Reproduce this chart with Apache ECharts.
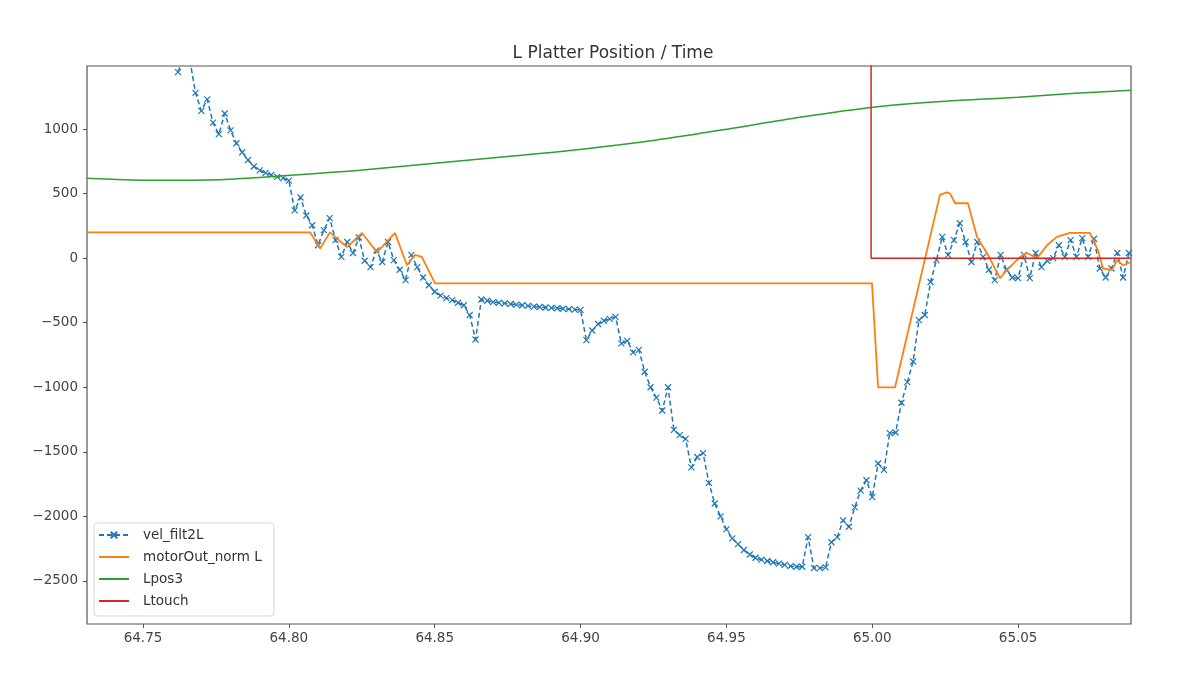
<!DOCTYPE html>
<html>
<head>
<meta charset="utf-8">
<script src="https://cdn.jsdelivr.net/npm/echarts@6/dist/echarts.min.js"></script>
<style>html,body{margin:0;padding:0;background:#fff}#c{width:1200px;height:694px}</style>
</head>
<body>
<div id="c"></div>
<script>
// ---- data ----
const velStart = 64.762;      // first sample time of vel_filt2L
const velStep = 0.002;        // sample period (500 Hz)
const velValues = [
  1440, 1560, 1540, 1280, 1140, 1230, 1050, 960, 1120, 990,
  890, 820, 760, 710, 680, 660, 645, 630, 620, 600,
  370, 470, 330, 255, 100, 217, 310, 140, 10, 125,
  40, 160, -20, -70, 60, -30, 125, -15, -90, -170,
  25, -70, -150, -210, -260, -290, -310, -325, -345, -365,
  -440, -630, -320, -330, -340, -345, -350, -355, -360, -365,
  -370, -375, -378, -382, -385, -388, -392, -395, -398, -400,
  -635, -560, -510, -485, -470, -455, -660, -640, -730, -710,
  -880, -1000, -1080, -1180, -1000, -1330, -1370, -1400, -1620, -1540,
  -1510, -1740, -1900, -2000, -2100, -2170, -2215, -2260, -2295, -2320,
  -2335, -2345, -2355, -2365, -2375, -2385, -2390, -2390, -2160, -2400,
  -2400, -2395, -2200, -2160, -2030, -2080, -1930, -1800, -1720, -1850,
  -1590, -1640, -1355, -1350, -1120, -960, -800, -480, -440, -185,
  -15, 165, 25, 140, 270, 125, -30, 125, 10, -90,
  -170, 25, -90, -150, -155, 25, -155, 40, -70, -20,
  0, 100, 10, 140, 10, 155, 10, 150, -80, -150,
  -80, 40, -150, 40
];

const motorTimes = [64.7308, 64.8073, 64.8107, 64.8141, 64.8199, 64.8251, 64.8302, 64.8364, 64.8405, 64.8432,
  64.8456, 64.8501, 64.9999, 65.0020, 65.0078, 65.0232, 65.0256, 65.0267, 65.0284, 65.0328,
  65.0359, 65.0393, 65.0438, 65.0462, 65.0507, 65.0531, 65.0565, 65.0599, 65.0633, 65.0678,
  65.0746, 65.0774, 65.0791, 65.0822, 65.0839, 65.0860, 65.0887];
const motorValues = [200, 200, 75, 200, 85, 195, 45, 195, -55, 25,
  10, -195, -195, -1000, -1000, 490, 510, 500, 425, 425,
  165, 40, -155, -90, 10, 40, 0, 100, 165, 195,
  195, 60, -80, -90, -15, -55, -30];

const posTimes = [64.7308, 64.7524, 64.7764, 64.8004, 64.8244, 64.8501, 64.8758, 64.9005, 64.9255,
  64.9502, 64.9752, 65.0003, 65.0249, 65.0500, 65.0695, 65.0887];
const posValues = [619, 604, 608, 642, 681, 735, 789, 844, 913, 998, 1091, 1169, 1215, 1246, 1277, 1300];

const touchTimes = [64.7308, 64.9996, 64.9996, 65.0887];
const touchValues = [3000, 3000, 0, 0];

const xTicks = [64.75, 64.80, 64.85, 64.90, 64.95, 65.00, 65.05];
const yTicks = [-2500, -2000, -1500, -1000, -500, 0, 500, 1000];
const seriesNames = ['vel_filt2L', 'motorOut_norm L', 'Lpos3', 'Ltouch'];
const titleText = 'L Platter Position / Time';

// ---- build ----
const velData = velValues.map((v, i) => [+(velStart + i * velStep).toFixed(4), v]);
const zip = (a, b) => a.map((t, i) => [t, b[i]]);

const chart = echarts.init(document.getElementById('c'), null, {renderer: 'canvas'});
const fontFam = 'DejaVu Sans, sans-serif';
chart.setOption({
  animation: false,
  backgroundColor: '#fff',
  title: {
    text: titleText, left: 608, top: 40, textAlign: 'center',
    textStyle: {fontFamily: fontFam, fontSize: 17, fontWeight: 'normal', color: '#333'}
  },
  grid: {left: 87, right: 69, top: 66, bottom: 70, show: true, borderColor: '#555', borderWidth: 1.2, backgroundColor: 'transparent'},
  legend: {
    orient: 'vertical', left: 94, top: 523,
    data: [
      {name: seriesNames[0]},
      {name: seriesNames[1], itemStyle: {opacity: 0}},
      {name: seriesNames[2], itemStyle: {opacity: 0}},
      {name: seriesNames[3], itemStyle: {opacity: 0}}
    ],
    itemWidth: 30, itemHeight: 8, itemGap: 8,
    padding: [5, 12, 8, 4],
    backgroundColor: 'rgba(255,255,255,0.8)', borderColor: '#d8d8d8', borderWidth: 1, borderRadius: 3,
    textStyle: {fontFamily: fontFam, fontSize: 13.5, color: '#333', padding: [0, 0, 0, 9]}
  },
  xAxis: {
    type: 'value', min: 64.7308, max: 65.0887,
    axisLine: {show: false, onZero: false},
    splitLine: {show: false},
    axisTick: {show: true, length: 4, lineStyle: {color: '#555'}, customValues: xTicks},
    axisLabel: {
      customValues: xTicks, margin: 7, color: '#444', fontFamily: fontFam, fontSize: 13.5,
      formatter: v => v.toFixed(2)
    }
  },
  yAxis: {
    type: 'value', min: -2833, max: 1488,
    axisLine: {show: false, onZero: false},
    splitLine: {show: false},
    axisTick: {show: true, length: 4, lineStyle: {color: '#555'}, customValues: yTicks},
    axisLabel: {
      customValues: yTicks, margin: 9, color: '#444', fontFamily: fontFam, fontSize: 13.5,
      formatter: v => (v < 0 ? '\u2212' + Math.abs(v) : String(v))
    }
  },
  series: [
    {
      name: seriesNames[0], type: 'line', data: velData,
      symbol: 'path://M0,0L10,10M10,0L0,10', symbolSize: 6, showAllSymbol: true,
      itemStyle: {color: '#1f77b4', borderColor: '#1f77b4', borderWidth: 1.2},
      lineStyle: {color: '#1f77b4', width: 1.5, type: [5, 3]},
      clip: true, z: 5
    },
    {
      name: seriesNames[1], type: 'line', data: zip(motorTimes, motorValues),
      symbol: 'none', lineStyle: {color: '#ff7f0e', width: 1.8}, itemStyle: {color: '#ff7f0e'}, clip: true, z: 6
    },
    {
      name: seriesNames[2], type: 'line', data: zip(posTimes, posValues), smooth: 0.3,
      symbol: 'none', lineStyle: {color: '#2ca02c', width: 1.5}, itemStyle: {color: '#2ca02c'}, clip: true, z: 7
    },
    {
      name: seriesNames[3], type: 'line', data: zip(touchTimes, touchValues),
      symbol: 'none', lineStyle: {color: '#d62728', width: 1.5}, itemStyle: {color: '#d62728'}, clip: true, z: 8
    }
  ]
});
</script>
</body>
</html>
